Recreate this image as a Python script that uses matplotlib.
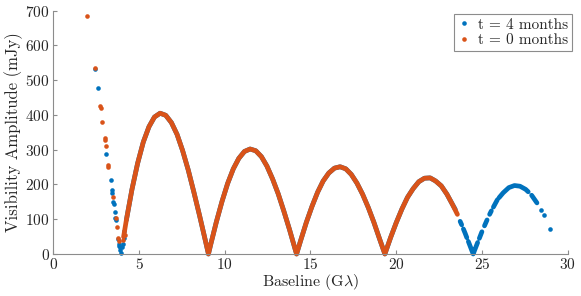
import numpy as np
import matplotlib
matplotlib.use("Agg")
from matplotlib import pyplot as plt

# visibility amplitude (mJy) against baseline (G lambda)
# t = 0 months: isolated samples on the steep inner part
orange_dot_b = [1.96, 2.41, 2.74, 2.76, 2.85, 2.99, 3.02, 3.09, 3.18, 3.20,
	3.48, 3.66, 3.73, 3.80, 3.83, 4.08, 4.16]
orange_dot_amp = [686, 534, 425, 420, 381, 335, 328, 310, 256, 250,
	163, 105, 77, 46, 38, 40, 55]

# t = 0 months: densely sampled part (reads as a solid band)
orange_arc_b = [4.10, 4.26, 4.59, 4.92, 5.25, 5.58, 5.90, 6.23, 6.56, 6.89,
	7.22, 7.54, 7.87, 8.20, 8.53, 8.86, 9.05, 9.18, 9.51, 9.84,
	10.17, 10.50, 10.82, 11.15, 11.48, 11.81, 12.14, 12.46, 12.79, 13.12,
	13.45, 13.78, 14.10, 14.19, 14.43, 14.76, 15.09, 15.42, 15.74, 16.07,
	16.40, 16.73, 17.06, 17.38, 17.71, 18.04, 18.37, 18.70, 19.02, 19.34,
	19.68, 20.01, 20.34, 20.66, 20.99, 21.32, 21.65, 21.98, 22.30, 22.63,
	22.96, 23.29, 23.57]
orange_arc_amp = [49, 97, 186, 261, 322, 366, 394, 405, 399, 378,
	344, 298, 242, 178, 111, 41, 0, 27, 92, 151,
	203, 245, 275, 295, 302, 297, 280, 253, 216, 173,
	123, 70, 15, 0, 39, 91, 137, 178, 210, 233,
	247, 251, 245, 229, 204, 172, 134, 91, 45, 0,
	48, 91, 130, 163, 188, 208, 218, 219, 210, 196,
	172, 142, 114]

# t = 4 months: isolated samples
blue_dot_b = [2.45, 2.60, 3.10, 3.35, 3.40, 3.43, 3.50, 3.52, 3.58, 3.62,
	3.65, 3.77, 3.81, 3.85, 3.88, 3.92, 3.95, 4.00, 4.04, 4.13, 4.15,
	28.45, 28.60, 29.00]
blue_dot_amp = [531, 477, 288, 213, 184, 176, 150, 143, 122, 105,
	97, 43, 30, 23, 19, 12, 2, 20, 28, 45, 67,
	127, 112, 71]

# t = 4 months: dense runs, nan marks a break in coverage
nan = np.nan
blue_arc_b = [4.26, 4.59, 4.92, 5.25, 5.58, 5.90, 6.23, 6.56, 6.89,
	7.22, 7.54, 7.87, 8.20, 8.53, 8.86, 9.05, 9.18, 9.51, 9.84,
	10.17, 10.50, 10.82, 11.15, 11.48, 11.81, 12.14, 12.46, 12.79, 13.12,
	13.45, 13.78, 14.10, 14.19, 14.43, 14.76, 15.09, 15.42, 15.74, 16.07,
	16.40, 16.73, 17.06, 17.38, 17.71, 18.04, 18.37, 18.70, 19.02, 19.34,
	19.68, 20.01, 20.34, 20.66, 20.99, 21.32, 21.65, 21.98, 22.30, 22.63,
	22.96, 23.29, 23.45, nan,
	23.73, 23.82, nan,
	23.92, 24.02, 24.12, nan,
	24.21, 24.35, 24.49, 24.60, 24.75, nan,
	24.85, 25.00, nan,
	25.15, 25.30, nan,
	25.45, 25.55, nan,
	25.67, 25.90, nan,
	26.00, 26.24, 26.57, 26.90, 27.22, 27.55, 27.70, nan,
	27.90, 28.21]
blue_arc_amp = [97, 186, 261, 322, 366, 394, 405, 399, 378,
	344, 298, 242, 178, 111, 41, 0, 27, 92, 151,
	203, 245, 275, 295, 302, 297, 280, 253, 216, 173,
	123, 70, 15, 0, 39, 91, 137, 178, 210, 233,
	247, 251, 245, 229, 204, 172, 134, 91, 45, 0,
	48, 91, 130, 163, 188, 208, 218, 219, 210, 196,
	172, 142, 128, nan,
	94, 84, nan,
	72, 60, 47, nan,
	36, 18, 0, 14, 33, nan,
	45, 64, nan,
	81, 98, nan,
	114, 124, nan,
	135, 156, nan,
	162, 176, 191, 197, 195, 186, 179, nan,
	169, 147]

series_labels = ["t = 4 months", "t = 0 months"]
x_ticks = [0, 5, 10, 15, 20, 25, 30]
y_ticks = [0, 100, 200, 300, 400, 500, 600, 700]

BLUE = "#0072BD"
ORANGE = "#D95319"
GREY = "#8c8c8c"

plt.rcParams.update({
	"font.family": "serif",
	"font.serif": ["cmr10"],
	"mathtext.fontset": "cm",
	"axes.formatter.use_mathtext": True,
	"axes.unicode_minus": False,
})

fig = plt.figure(figsize=(5.81, 2.96), dpi=100)
ax = fig.add_axes([0.0917, 0.1419, 0.8853, 0.8220])

dot = dict(linestyle="none", marker="o", ms=3.3, mew=0, clip_on=False)
band = dict(lw=3.4, solid_capstyle="round", solid_joinstyle="round", clip_on=False)

ax.plot(blue_arc_b, blue_arc_amp, color=BLUE, **band)
ax.plot(blue_dot_b, blue_dot_amp, color=BLUE, label=series_labels[0], **dot)
ax.plot(orange_arc_b, orange_arc_amp, color=ORANGE, **band)
ax.plot(orange_dot_b, orange_dot_amp, color=ORANGE, label=series_labels[1], **dot)

ax.set_xlim(0, 30)
ax.set_ylim(0, 700)
ax.set_xticks(x_ticks)
ax.set_yticks(y_ticks)

for side in ["top", "right"]:
	ax.spines[side].set_visible(False)
for side in ["left", "bottom"]:
	ax.spines[side].set_color(GREY)
	ax.spines[side].set_linewidth(0.8)
ax.tick_params(direction="in", length=3, width=0.8, color=GREY,
	labelsize=11, labelcolor="#262626", pad=2.5)

ax.set_xlabel(r"Baseline (G$\lambda$)", fontsize=11.5, color="#262626", labelpad=0)
ax.set_ylabel("Visibility Amplitude (mJy)", fontsize=12, color="#262626", labelpad=2)

leg = ax.legend(loc="upper right", bbox_to_anchor=(0.9845, 0.9517),
	bbox_transform=fig.transFigure, borderaxespad=0, fancybox=False,
	framealpha=1, edgecolor=GREY, fontsize=11, handlelength=0.8,
	handletextpad=0.5, borderpad=0.25, labelspacing=0.1, markerscale=1.0)
leg.get_frame().set_linewidth(0.8)
for t in leg.get_texts():
	t.set_color("#262626")

fig.savefig("out.png", dpi=100)
plt.close(fig)
